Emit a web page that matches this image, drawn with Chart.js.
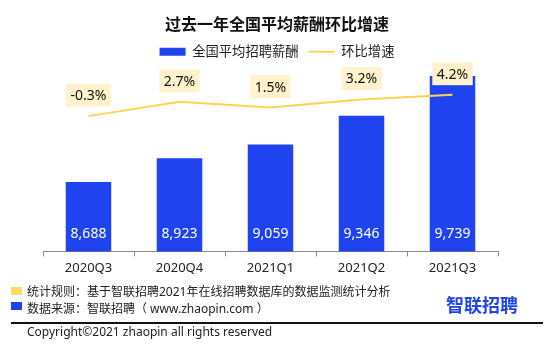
<!DOCTYPE html>
<html>
<head>
<meta charset="utf-8">
<script src="https://cdn.jsdelivr.net/npm/chart.js@4"></script>
<style>
  html, body { margin: 0; padding: 0; background: #fff; }
  #wrap { position: relative; width: 554px; height: 348px; font-family: 'Noto Sans', 'Noto Sans CJK SC', sans-serif; color: #222; }
  #chart { position: absolute; left: 0; top: 0; }
  .sq { position: absolute; left: 11px; width: 11px; height: 8px; }
  .note { position: absolute; left: 27px; font-size: 12px; line-height: 14px; white-space: nowrap; color: #222; }
  #rule { position: absolute; left: 11px; top: 322px; width: 532px; height: 1.5px; background: #111; }
  #logo { position: absolute; left: 446px; top: 293px; font-size: 18px; line-height: 22px; font-weight: bold; color: #1f44ef; font-family: 'Noto Sans CJK SC', sans-serif; }
</style>
</head>
<body>
<div id="wrap">
  <canvas id="chart" width="554" height="348"></canvas>
  <div class="sq" style="top:287px;background:#ffd966;"></div>
  <div class="note" style="top:285px;">统计规则：基于智联招聘2021年在线招聘数据库的数据监测统计分析</div>
  <div class="sq" style="top:302px;background:#1f44ef;"></div>
  <div class="note" style="top:302px;">数据来源：智联招聘（ www.zhaopin.com ）</div>
  <div id="logo">智联招聘</div>
  <div id="rule"></div>
  <div class="note" style="top:325px;">Copyright©2021 zhaopin all rights reserved</div>
</div>
<script>
// data
const quarters = ["2020Q3", "2020Q4", "2021Q1", "2021Q2", "2021Q3"];
const salary = [8688, 8923, 9059, 9346, 9739];
const growth = [-0.3, 2.7, 1.5, 3.2, 4.2];

const FONT = "'Noto Sans', 'Noto Sans CJK SC', sans-serif";
const BLUE = "#1f44ef";
const GOLD = "#ffd454";

Chart.defaults.font.family = FONT;

// value labels: white numbers inside bars, % in light yellow boxes above the line
const valueLabels = {
    id: "valueLabels",
    afterDatasetsDraw(chart) {
        const ctx = chart.ctx;
        const bottom = chart.chartArea.bottom;
        ctx.save();
        ctx.textAlign = "center";
        ctx.textBaseline = "middle";

        const bars = chart.getDatasetMeta(0).data;
        ctx.font = "14px " + FONT;
        ctx.fillStyle = "#ffffff";
        bars.forEach((bar, i) => {
            ctx.fillText(salary[i].toLocaleString("en-US"), bar.x, bottom - 17);
        });

        const pts = chart.getDatasetMeta(1).data;
        ctx.font = "14px " + FONT;
        pts.forEach((pt, i) => {
            const txt = growth[i].toFixed(1) + "%";
            const w = ctx.measureText(txt).width + 9;
            const cy = pt.y - 21;
            ctx.fillStyle = "#fff2cc";
            ctx.fillRect(pt.x - w / 2, cy - 11.5, w, 23);
            ctx.fillStyle = "#111";
            ctx.fillText(txt, pt.x, cy + 1);
        });
        ctx.restore();
    }
};

const chart = new Chart(document.getElementById("chart"), {
    data: {
        labels: quarters,
        datasets: [{
            type: "bar",
            label: "全国平均招聘薪酬",
            data: salary,
            backgroundColor: BLUE,
            borderWidth: 0,
            barPercentage: 0.5,
            categoryPercentage: 1.0,
            yAxisID: "y",
            order: 1
        }, {
            type: "line",
            label: "环比增速",
            data: growth,
            borderColor: GOLD,
            backgroundColor: GOLD,
            borderWidth: 2,
            pointRadius: 0,
            tension: 0,
            yAxisID: "y2",
            order: 0
        }]
    },
    options: {
        responsive: false,
        animation: false,
        layout: {
            padding: { left: 43, right: 43, top: 3, bottom: 68 }
        },
        scales: {
            x: {
                grid: {
                    display: true,
                    drawOnChartArea: false,
                    drawTicks: true,
                    tickLength: 5,
                    color: "#8c8c8c",
                    offset: true
                },
                border: { color: "#8c8c8c", width: 1 },
                ticks: { color: "#222", font: { size: 13 }, padding: 4 }
            },
            y: { display: false, min: 8000, max: 9814 },
            // invisible right axis, only keeps some room on the right
            y2: {
                position: "right",
                min: -28.7,
                max: 9.7,
                grid: { display: false },
                border: { display: false },
                ticks: { display: false },
                afterFit: (s) => { s.width = 13; }
            }
        },
        plugins: {
            title: {
                display: true,
                text: "过去一年全国平均薪酬环比增速",
                color: "#111",
                font: { size: 16, weight: "bold" },
                padding: { top: 13, bottom: 0 }
            },
            legend: {
                position: "top",
                labels: {
                    color: "#222",
                    font: { size: 13.3 },
                    usePointStyle: true,
                    pointStyleWidth: 26,
                    boxWidth: 26,
                    boxHeight: 8,
                    padding: 10,
                    sort: (a, b) => a.datasetIndex - b.datasetIndex,
                    generateLabels: (c) => Chart.defaults.plugins.legend.labels.generateLabels(c).map((item) => ({
                        ...item,
                        pointStyle: item.datasetIndex === 0 ? "rect" : "line",
                        lineWidth: item.datasetIndex === 0 ? 0 : 2,
                        strokeStyle: item.datasetIndex === 0 ? BLUE : GOLD,
                        fillStyle: item.datasetIndex === 0 ? BLUE : GOLD
                    }))
                }
            },
            tooltip: { enabled: false }
        }
    },
    plugins: [valueLabels]
});
</script>
</body>
</html>
